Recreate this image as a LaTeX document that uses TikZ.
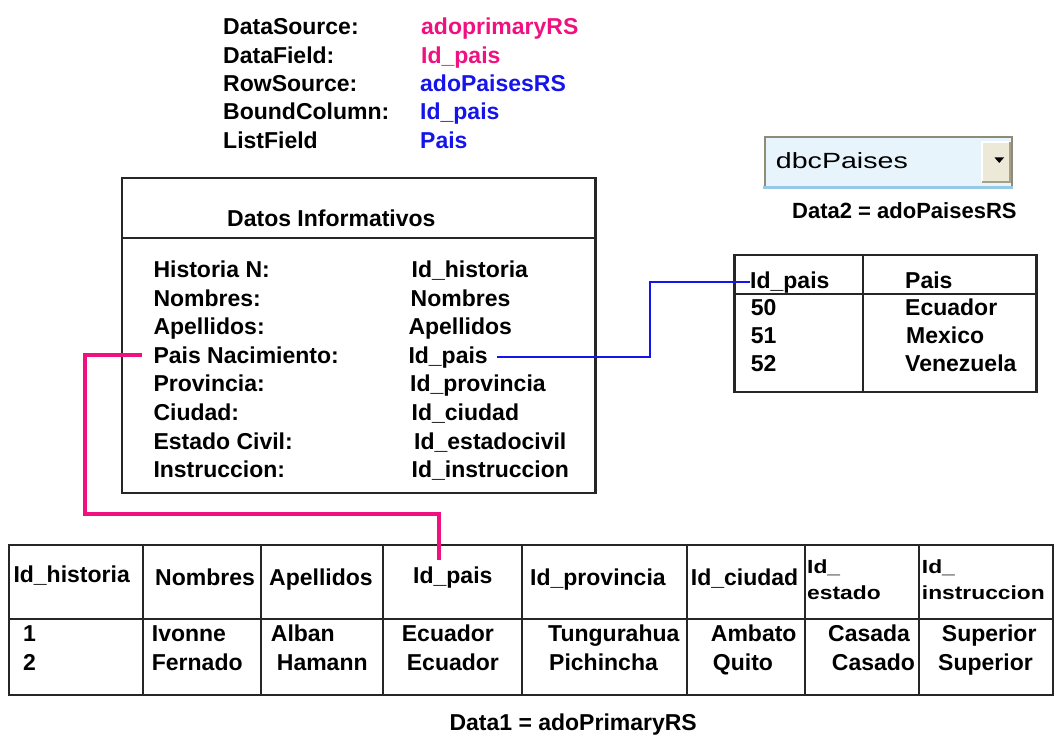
\documentclass[tikz,border=0pt]{standalone}
\usepackage{fontspec}
\setmainfont{Liberation Sans}
\definecolor{pinkc}{RGB}{240,16,128}
\definecolor{bluec}{RGB}{20,20,235}
\definecolor{combofill}{RGB}{232,244,252}
\definecolor{comboedge}{RGB}{140,140,120}
\definecolor{combolow}{RGB}{150,200,232}
\definecolor{btnfill}{RGB}{236,233,216}
\definecolor{btndark}{RGB}{165,160,135}
\newcommand\widetxt[1]{\scalebox{1.2}[1]{#1}}
\newcommand\combotxt[1]{\scalebox{1.3}[1]{#1}}
\tikzset{
  t/.style={inner sep=0pt, anchor=base west, font=\fontsize{23}{28}\selectfont\bfseries},
  tcap/.style={inner sep=0pt, anchor=base west, font=\fontsize{22}{28}\selectfont\bfseries},
  ts/.style={inner sep=0pt, anchor=base west, font=\fontsize{19}{22}\selectfont\bfseries},
  tcombo/.style={inner sep=0pt, anchor=base west, font=\fontsize{22}{26}\selectfont},
  gridline/.style={line width=2.1pt, draw=black!85},
  pinkline/.style={line width=3.2pt, draw=pinkc},
  blueline/.style={line width=2pt, draw=bluec},
}
\begin{document}
\begin{tikzpicture}[x=1pt,y=-1pt]
\useasboundingbox (0,0) rectangle (1054,735);

% ---- top property list ----
\node[t] (pDS)  at (223,35)    {DataSource:};
\node[t] (pDF)  at (223,63.3)  {DataField:};
\node[t] (pRS)  at (223,91.7)  {RowSource:};
\node[t] (pBC)  at (223,120)   {BoundColumn:};
\node[t] (pLF)  at (223,149)   {ListField};
\node[t,text=pinkc] (vDS) at (421,35)   {adoprimaryRS};
\node[t,text=pinkc] (vDF) at (421,63.3) {Id\_pais};
\node[t,text=bluec] (vRS) at (420,91.7) {adoPaisesRS};
\node[t,text=bluec] (vBC) at (420,120)  {Id\_pais};
\node[t,text=bluec] (vLF) at (420,149)  {Pais};

% ---- Datos Informativos box ----
\draw[gridline] (122.3,178) rectangle (595.5,493.3);
\draw[gridline] (122.3,237.7) -- (595.5,237.7);
\node[t] (title) at (227,227) {Datos Informativos};
\node[t] (lHist) at (153.3,277.3) {Historia N:};
\node[t] (lNom)  at (153.3,306)   {Nombres:};
\node[t] (lApe)  at (153.3,334.3) {Apellidos:};
\node[t] (lPais) at (153.3,363.3) {Pais Nacimiento:};
\node[t] (lProv) at (153.3,391.7) {Provincia:};
\node[t] (lCiu)  at (153.3,420)   {Ciudad:};
\node[t] (lEst)  at (153.3,449)   {Estado Civil:};
\node[t] (lIns)  at (153.3,477.3) {Instruccion:};
\node[t] (vHist) at (411.5,277.3) {Id\_historia};
\node[t] (vNom)  at (410.5,306)   {Nombres};
\node[t] (vApe)  at (408.3,334.3) {Apellidos};
\node[t] (vPais) at (408.3,363.3) {Id\_pais};
\node[t] (vProv) at (410,391.7)   {Id\_provincia};
\node[t] (vCiu)  at (411.5,420)   {Id\_ciudad};
\node[t] (vEst)  at (414,449)     {Id\_estadocivil};
\node[t] (vIns)  at (411.5,477.3) {Id\_instruccion};

% ---- combo box ----
\fill[combofill] (765,137.3) rectangle (1011.7,186);
\draw[line width=2.4pt, draw=comboedge] (765,186) -- (765,137.3) -- (1011.7,137.3) -- (1011.7,186);
\draw[line width=3pt, draw=combolow] (763,187.5) -- (1013,187.5);
\node[tcombo] (combo) at (775.7,168.3) {\combotxt{dbcPaises}};
\fill[btnfill] (982,142) rectangle (1010,182);
\draw[line width=1.2pt, draw=white] (982,182) -- (982,142) -- (1010,142);
\draw[line width=1.6pt, draw=btndark] (982,182) -- (1010,182) -- (1010,142);
\fill (994.5,157.5) -- (1004,157.5) -- (999.25,163) -- cycle;

\node[tcap] (cap2) at (792,219) {Data2 = adoPaisesRS};

% ---- Data2 table ----
\draw[gridline] (734.5,255) rectangle (1036.5,391.7);
\draw[gridline] (734.5,294) -- (1036.5,294);
\draw[gridline] (863.3,255) -- (863.3,391.7);
\node[t] (t2hId)   at (750,288.3)   {Id\_pais};
\node[t] (t2hPais) at (905,288.3)   {Pais};
\node[t] (t2a) at (750.7,315)   {50};
\node[t] (t2b) at (750.7,343.3) {51};
\node[t] (t2c) at (750.7,371.7) {52};
\node[t] (t2d) at (905,315)     {Ecuador};
\node[t] (t2e) at (906,343.3)   {Mexico};
\node[t] (t2f) at (905,371.7)   {Venezuela};

% ---- Data1 table ----
\draw[gridline] (9,545) rectangle (1053,695);
\draw[gridline] (9,619) -- (1053,619);
\foreach \cx in {142.7,260.7,382.7,521.7,686.7,805,919}
  \draw[gridline] (\cx,545) -- (\cx,695);
\node[t] (hHist) at (13.3,582.7) {Id\_historia};
\node[t] (hNom)  at (155,585)    {Nombres};
\node[t] (hApe)  at (269,585)    {Apellidos};
\node[t] (hPais) at (413,583)    {Id\_pais};
\node[t] (hProv) at (530,585)    {Id\_provincia};
\node[t] (hCiu)  at (690.7,585)  {Id\_ciudad};
\node[ts] (hEstA) at (807,573.3)  {\widetxt{Id\_}};
\node[ts] (hEstB) at (807,599.3)  {\widetxt{estado}};
\node[ts] (hInsA) at (921.7,573.3){\widetxt{Id\_}};
\node[ts] (hInsB) at (921.7,599.3){\widetxt{instruccion}};

\node[t] (r1a) at (23,641.7)    {1};
\node[t] (r2a) at (23,670.7)    {2};
\node[t] (r1b) at (151.7,641.7) {Ivonne};
\node[t] (r2b) at (151.7,670.7) {Fernado};
\node[t] (r1c) at (270.7,641.7) {Alban};
\node[t] (r2c) at (276.7,670.7) {Hamann};
\node[t] (r1d) at (401.7,641.7) {Ecuador};
\node[t] (r2d) at (406.7,670.7) {Ecuador};
\node[t] (r1e) at (548,641.7)   {Tungurahua};
\node[t] (r2e) at (549,670.7)   {Pichincha};
\node[t] (r1f) at (710.7,641.7) {Ambato};
\node[t] (r2f) at (712.7,670.7) {Quito};
\node[t] (r1g) at (828,641.7)   {Casada};
\node[t] (r2g) at (831.7,670.7) {Casado};
\node[t] (r1h) at (941.7,641.7) {Superior};
\node[t] (r2h) at (938,670.7)   {Superior};

\node[t] (cap1) at (449.3,730) {Data1 = adoPrimaryRS};

% ---- connectors ----
\coordinate (pinkA) at (85,514);
\coordinate (pinkB) at (439,560);
\draw[pinkline] ([xshift=-11.5pt]lPais.west) -| (pinkA) -| (pinkB);
\draw[blueline] ([xshift=9pt]vPais.east) -| ([xshift=-100pt]t2hId.west) -- (t2hId.west);
\end{tikzpicture}
\end{document}
